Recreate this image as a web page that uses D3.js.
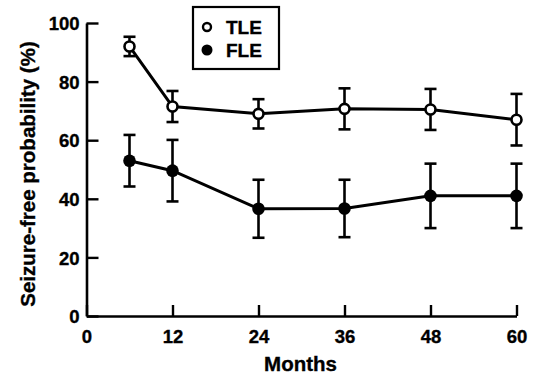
<!DOCTYPE html>
<html><head><meta charset="utf-8">
<script src="https://cdn.jsdelivr.net/npm/d3@7"></script>
<style>
body{margin:0;background:#fff;}
text{font-family:"Liberation Sans",Arial,sans-serif;font-weight:bold;fill:#000;stroke:#000;stroke-width:0.35px;}
</style></head>
<body><svg id="c" width="538" height="376"></svg>
<script>
const months = [6, 12, 24, 36, 48, 60];
const tleValues = [92, 71.5, 69, 70.7, 70.5, 67];
const tleErr = [3.3, 5.3, 5, 7, 7, 8.8];
const fleValues = [53, 49.6, 36.6, 36.7, 41, 41];
const fleErr = [8.8, 10.5, 9.9, 9.8, 11, 11];
const xTicks = [0, 12, 24, 36, 48, 60];
const yTicks = [0, 20, 40, 60, 80, 100];
const seriesNames = ["TLE", "FLE"];

const svg = d3.select("#c");
const x = d3.scaleLinear().domain([0, 60]).range([86.5, 516.5]);
const y = d3.scaleLinear().domain([0, 100]).range([316, 23]);

// axes
const gx = svg.append("g").attr("transform", "translate(0,316)")
  .call(d3.axisBottom(x).tickValues(xTicks).tickSizeInner(-11).tickSizeOuter(0).tickPadding(14));
const gy = svg.append("g").attr("transform", "translate(86.5,0)")
  .call(d3.axisLeft(y).tickValues(yTicks).tickSizeInner(-12).tickSizeOuter(0).tickPadding(7));
[gx, gy].forEach(g => {
  g.select(".domain").attr("stroke", "#000").attr("stroke-width", 2.6);
  g.selectAll(".tick line").attr("stroke", "#000").attr("stroke-width", 2.4);
  g.selectAll(".tick text").attr("font-size", 18.5).attr("font-family", "Liberation Sans, Arial, sans-serif").attr("font-weight", "bold").attr("fill", "#000");
});
gy.selectAll(".tick text").attr("dy", "0.36em");

// labels
svg.append("text").attr("x", 300.5).attr("y", 371).attr("text-anchor", "middle").attr("font-size", 20.5).text("Months");
svg.append("text").attr("transform", "translate(35,174) rotate(-90)").attr("text-anchor", "middle").attr("font-size", 20.5).text("Seizure-free probability (%)");

function drawSeries(vals, errs, filled) {
  const data = months.map((m, i) => ({m, v: vals[i], e: errs[i]}));
  const g = svg.append("g");
  // error bars
  data.forEach(d => {
    g.append("line").attr("x1", x(d.m)).attr("x2", x(d.m)).attr("y1", y(d.v + d.e)).attr("y2", y(d.v - d.e))
      .attr("stroke", "#000").attr("stroke-width", 2.6);
    [d.v + d.e, d.v - d.e].forEach(c => {
      g.append("line").attr("x1", x(d.m) - 6).attr("x2", x(d.m) + 6).attr("y1", y(c)).attr("y2", y(c))
        .attr("stroke", "#000").attr("stroke-width", 2.6);
    });
  });
  g.append("path").datum(data)
    .attr("d", d3.line().x(d => x(d.m)).y(d => y(d.v)))
    .attr("fill", "none").attr("stroke", "#000").attr("stroke-width", 3);
  g.selectAll("circle").data(data).join("circle")
    .attr("cx", d => x(d.m)).attr("cy", d => y(d.v))
    .attr("r", filled ? 6.3 : 5)
    .attr("fill", filled ? "#000" : "#fff").attr("stroke", "#000").attr("stroke-width", filled ? 0 : 2.6);
}
drawSeries(tleValues, tleErr, false);
drawSeries(fleValues, fleErr, true);

// legend
const lg = svg.append("g");
lg.append("rect").attr("x", 193).attr("y", 7).attr("width", 86).attr("height", 62)
  .attr("fill", "#fff").attr("stroke", "#000").attr("stroke-width", 2.2);
seriesNames.forEach((n, i) => {
  const cy = 27 + i * 23;
  lg.append("circle").attr("cx", 207).attr("cy", cy).attr("r", i === 0 ? 4 : 5.5)
    .attr("fill", i === 0 ? "#fff" : "#000").attr("stroke", "#000").attr("stroke-width", i === 0 ? 2.4 : 0);
  lg.append("text").attr("x", 226).attr("y", cy + 7).attr("font-size", 19).text(n);
});
</script></body></html>
